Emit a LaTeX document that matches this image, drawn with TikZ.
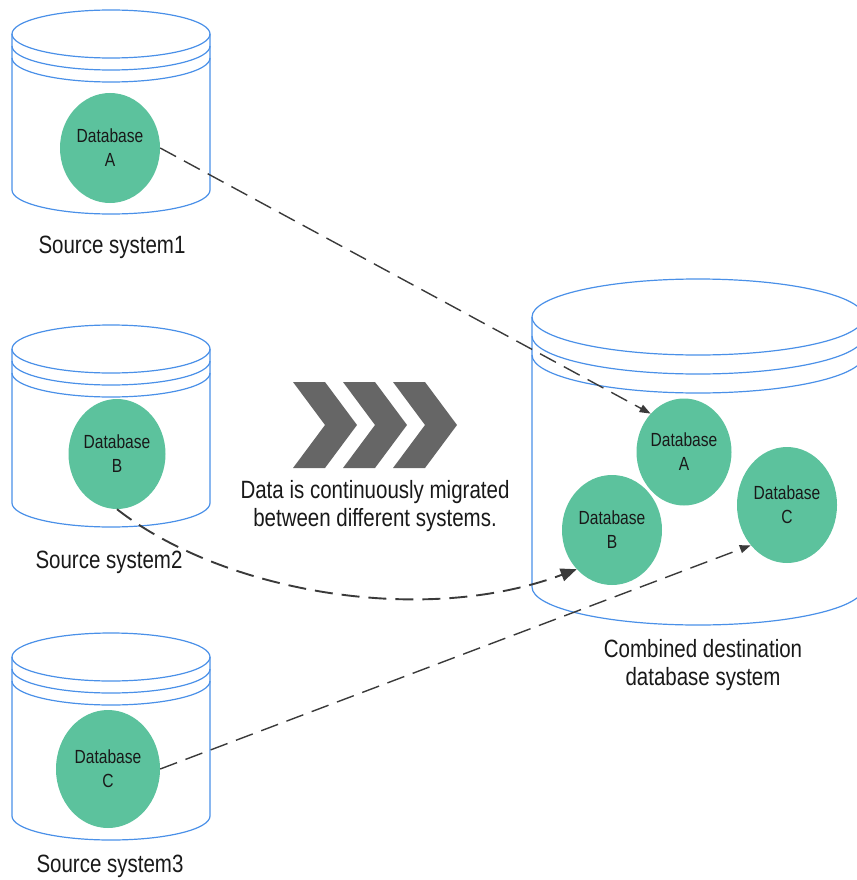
\documentclass[tikz,border=0pt]{standalone}
\usepackage{fontspec}
\setmainfont{Liberation Sans}[FakeStretch=0.82]
\usetikzlibrary{calc, arrows.meta, shapes.geometric, positioning}

\definecolor{cylblue}{HTML}{4A90E8}
\definecolor{dbgreen}{HTML}{5CC29D}
\definecolor{linegray}{HTML}{3A3A3A}
\definecolor{chevgray}{HTML}{666666}

\tikzset{
  dbnode/.style={ellipse, fill=dbgreen, minimum width=100pt, minimum height=110pt,
    inner sep=0pt, align=center, text=black!90, font=\fontsize{19}{24}\selectfont},
  syslabel/.style={align=center, text=black!90, font=\fontsize{25}{28}\selectfont},
  cylline/.style={draw=cylblue, line width=1.2pt},
  migline/.style={draw=linegray, line width=1.4pt, dash pattern=on 18pt off 9pt},
}

\begin{document}
\begin{tikzpicture}[x=1pt, y=-1pt]
  \useasboundingbox (0,0) rectangle (856,880);
  % Source cylinders
  \foreach \ty/\by in {34/190, 349/503, 657/816} {
    \draw[cylline] (111,\ty) ellipse (99 and 24);
    \draw[cylline] (12,\ty) -- (12,\by) arc[start angle=180, end angle=0, x radius=99, y radius=24] -- (210,\ty);
    \draw[cylline] (12,\ty+12) arc[start angle=180, end angle=0, x radius=99, y radius=24];
    \draw[cylline] (12,\ty+24) arc[start angle=180, end angle=0, x radius=99, y radius=24];
  }
  % Destination cylinder (cut by the right edge)
  \draw[cylline] (698,317) ellipse (166 and 38);
  \draw[cylline] (532,317) -- (532,587) arc[start angle=180, end angle=0, x radius=166, y radius=38] -- (864,317);
  \draw[cylline] (532,336) arc[start angle=180, end angle=0, x radius=166, y radius=38];
  \draw[cylline] (532,355) arc[start angle=180, end angle=0, x radius=166, y radius=38];
  % Chevrons
  \foreach \i in {0,1,2}
    \fill[chevgray, xshift=\i*50pt] (293,382) -- (325,382) -- (357,425) -- (325,468) -- (293,468) -- (325,425) -- cycle;
  % Databases
  \node[dbnode] (srcA) at (110,148) {Database\\A};
  \node[dbnode, minimum width=97pt] (srcB) at (117,454) {Database\\B};
  \node[dbnode, minimum width=104pt, minimum height=118pt] (srcC) at (108,769) {Database\\C};
  \node[dbnode, minimum width=95pt, minimum height=107pt] (dstA) at (684,452) {Database\\A};
  \node[dbnode] (dstB) at (612,530) {Database\\B};
  \node[dbnode, minimum height=116pt] (dstC) at (787,505) {Database\\C};
  % Labels
  \node[syslabel] (lblA) at (112,247) {Source system1};
  \node[syslabel] (lblB) at (109,562) {Source system2};
  \node[syslabel] (lblC) at (110,866) {Source system3};
  \node[syslabel] (lblMig) at (375,506) {Data is continuously migrated\\between different systems.};
  \node[syslabel] (lblDst) at (703,665) {Combined destination\\database system};
  % Migration paths
  \draw[migline, -{Triangle[length=11pt, width=8pt]}] (srcA.east) -- (dstA.131);
  \draw[migline, line width=1.9pt, -{Triangle[length=16pt, width=13pt]}] (srcB.south) .. controls (220,590) and (420,628) .. (dstB.228);
  \draw[migline, -{Triangle[length=11pt, width=8pt]}] (srcC.east) -- (dstC.228);
\end{tikzpicture}
\end{document}
